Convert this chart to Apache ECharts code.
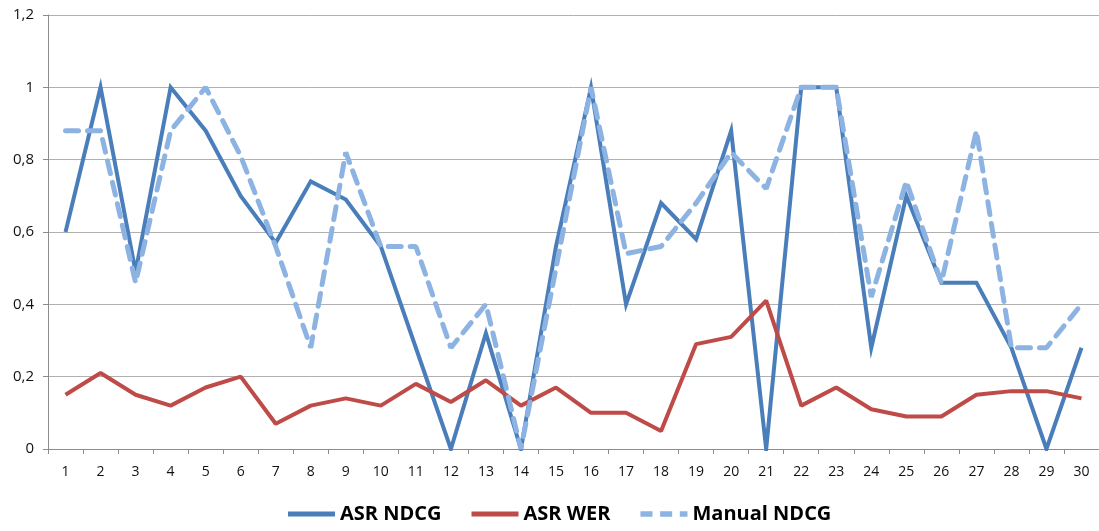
<!DOCTYPE html>
<html>
<head>
<meta charset="utf-8">
<script src="https://cdn.jsdelivr.net/npm/echarts@6/dist/echarts.min.js"></script>
<style>html,body{margin:0;padding:0;background:#fff}#c{width:1099px;height:531px}</style>
</head>
<body>
<div id="c"></div>
<script>
var categories = ['1','2','3','4','5','6','7','8','9','10','11','12','13','14','15','16','17','18','19','20','21','22','23','24','25','26','27','28','29','30'];
var asrNdcg = [0.60,1.00,0.49,1.00,0.88,0.70,0.57,0.74,0.69,0.56,0.28,0.00,0.32,0.00,0.56,1.00,0.40,0.68,0.58,0.88,0.00,1.00,1.00,0.28,0.70,0.46,0.46,0.28,0.00,0.28];
var asrWer = [0.15,0.21,0.15,0.12,0.17,0.20,0.07,0.12,0.14,0.12,0.18,0.13,0.19,0.12,0.17,0.10,0.10,0.05,0.29,0.31,0.41,0.12,0.17,0.11,0.09,0.09,0.15,0.16,0.16,0.14];
var manualNdcg = [0.88,0.88,0.46,0.88,1.00,0.81,0.56,0.28,0.82,0.56,0.56,0.28,0.40,0.00,0.50,1.00,0.54,0.56,0.68,0.82,0.72,1.00,1.00,0.42,0.74,0.46,0.88,0.28,0.28,0.40];
var yTicks = [0, 0.2, 0.4, 0.6, 0.8, 1, 1.2];

var chart = echarts.init(document.getElementById('c'), null, {renderer: 'canvas'});
var fontFam = '"Open Sans", "Noto Sans", sans-serif';
chart.setOption({
  animation: false,
  backgroundColor: '#fff',
  grid: {left: 48, right: 0, top: 15, bottom: 82, containLabel: false},
  legend: {
    bottom: 2,
    left: 283,
    itemWidth: 47,
    itemHeight: 12,
    itemGap: 30,
    textStyle: {fontFamily: fontFam, fontSize: 20, fontWeight: 'bold', color: '#000'},
    data: [
      {name: 'ASR NDCG', icon: 'path://M0,0 L47,0 L47,5 L0,5 Z'},
      {name: 'ASR WER', icon: 'path://M0,0 L47,0 L47,5 L0,5 Z'},
      {name: 'Manual NDCG', icon: 'path://M0,0 L11,0 L11,5 L0,5 Z M18,0 L29,0 L29,5 L18,5 Z M36,0 L43,0 L43,5 L36,5 Z'}
    ]
  },
  xAxis: {
    type: 'category',
    data: categories,
    boundaryGap: true,
    axisLine: {lineStyle: {color: '#8c8c8c', width: 1}},
    axisTick: {show: true, length: 5, lineStyle: {color: '#8c8c8c'}},
    axisLabel: {color: '#111', fontFamily: fontFam, fontSize: 14, margin: 16}
  },
  yAxis: {
    type: 'value',
    min: yTicks[0],
    max: yTicks[yTicks.length - 1],
    interval: 0.2,
    axisLine: {show: true, lineStyle: {color: '#8c8c8c', width: 1}},
    axisTick: {show: true, length: 5, lineStyle: {color: '#8c8c8c'}},
    splitLine: {lineStyle: {color: '#b0b0b0', width: 1}},
    axisLabel: {
      color: '#111', fontFamily: fontFam, fontSize: 15, margin: 14,
      formatter: function (v) { return String(Math.round(v * 10) / 10).replace('.', ','); }
    }
  },
  series: [
    {name: 'ASR NDCG', type: 'line', data: asrNdcg, symbol: 'none', color: '#4a7ebb',
     lineStyle: {width: 4, color: '#4a7ebb', join: 'miter'}, z: 2},
    {name: 'ASR WER', type: 'line', data: asrWer, symbol: 'none', color: '#be4b48',
     lineStyle: {width: 4, color: '#be4b48'}, z: 3},
    {name: 'Manual NDCG', type: 'line', data: manualNdcg, symbol: 'none', color: '#8db3e2',
     lineStyle: {width: 5, color: '#8db3e2', type: [13, 9], cap: 'round'}, z: 4}
  ]
});
</script>
</body>
</html>
